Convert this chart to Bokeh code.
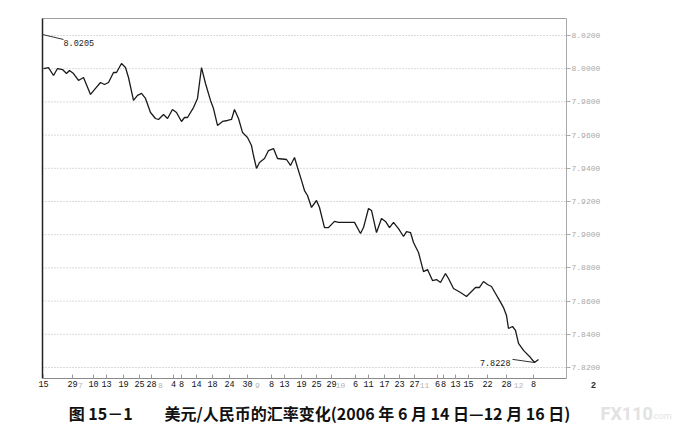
from bokeh.plotting import figure
from bokeh.models import Range1d, FixedTicker, Label, LinearAxis
from bokeh.embed import file_html
from bokeh.resources import INLINE

# trading-day index (0 = 14 Jun 2006) and USD/CNY rate
day = [3.75, 5, 6.25, 7.25, 8.5, 9.5, 10.25, 11.25, 12.5, 13.75, 15.5, 16.75, 18, 19, 20,
       21.25, 22, 23.25, 24.25, 25, 26.25, 27.25, 28.25, 29.25, 30.5, 31.75, 32.5, 33.75,
       34.75, 36, 37, 38.25, 39, 39.75, 41.25, 42.25, 43.25, 44.25, 45.5, 46.25, 47.25,
       48.5, 49.75, 50.75, 51.5, 52.5, 53.5, 54.75, 55.75, 56.25, 57, 57.75, 59, 60, 61.25,
       62.25, 64.5, 65.5, 66.5, 67.25, 68.25, 69, 69.75, 70.75, 72, 72.75, 74, 75, 76.5,
       77.5, 81.5, 83, 83.75, 85, 85.75, 87, 88.25, 89.25, 90.25, 91.25, 92.5, 93.75, 94.5,
       95.5, 96.25, 97.5, 98.75, 99.75, 101, 102, 103, 104.25, 105, 106.25, 108, 109.5,
       110.5, 111.75, 112.75, 113.75, 114.75, 115.75, 116.75, 117.75, 118.75, 119.5, 120,
       121, 121.75, 122.5, 123.75, 125.5, 126.5, 127.5]
rate = [8.0001, 8.0007, 7.9959, 8.0001, 7.9995, 7.9971, 7.9989, 7.9971, 7.9929, 7.9947,
        7.9845, 7.9881, 7.9917, 7.9905, 7.9917, 7.9977, 7.9977, 8.0031, 8.0007, 7.9947,
        7.9809, 7.9839, 7.9851, 7.9821, 7.9736, 7.9700, 7.9694, 7.9724, 7.9700, 7.9754,
        7.9736, 7.9682, 7.9706, 7.9706, 7.9766, 7.9821, 8.0007, 7.9911, 7.9809, 7.9760,
        7.9658, 7.9682, 7.9688, 7.9694, 7.9754, 7.9700, 7.9616, 7.9586, 7.9537, 7.9477,
        7.9399, 7.9435, 7.9459, 7.9507, 7.9519, 7.9459, 7.9453, 7.9417, 7.9465, 7.9405,
        7.9327, 7.9266, 7.9236, 7.9164, 7.9206, 7.9164, 7.9043, 7.9043, 7.9080, 7.9074,
        7.9074, 7.9007, 7.9043, 7.9158, 7.9146, 7.9013, 7.9098, 7.9080, 7.9043, 7.9074,
        7.9037, 7.8989, 7.9019, 7.9013, 7.8953, 7.8893, 7.8778, 7.8790, 7.8724, 7.8730,
        7.8712, 7.8766, 7.8736, 7.8676, 7.8652, 7.8628, 7.8652, 7.8682, 7.8682, 7.8718,
        7.8700, 7.8688, 7.8646, 7.8604, 7.8561, 7.8513, 7.8435, 7.8447, 7.8423, 7.8345,
        7.8303, 7.8260, 7.8230, 7.8248]

tick_days = [3.75, 11, 16.25, 19.5, 23.75, 27.75, 30.75, 36.25, 38.25, 42, 46, 50.25,
             54.75, 60.75, 64, 68.25, 72, 75.75, 81.75, 85, 89, 92.75, 96.5, 102.25,
             103.75, 106.75, 110, 114.75, 119.5, 126.25]
tick_labels = ["15", "29", "10", "13", "19", "25", "28", "4", "8", "14", "18", "24", "30",
               "8", "13", "19", "25", "29", "6", "11", "17", "23", "27", "6", "8", "13",
               "15", "22", "28", "8"]
month_days = [13, 33, 57.25, 78, 99, 122.5]
month_labels = ["7", "8", "9", "10", "11", "12"]

y_ticks = [7.82, 7.84, 7.86, 7.88, 7.90, 7.92, 7.94, 7.96, 7.98, 8.00, 8.02]

high_label = "8.0205"
high_x = [3.5, 8.75]
high_y = [8.0206, 8.0176]
low_label = "7.8228"
low_x = [121.0, 126.5]
low_y = [7.8249, 7.8230]

caption = "图 15－1　　美元/人民币的汇率变化(2006 年 6 月 14 日—12 月 16 日)"

# plot-area bounds (data units) and the full canvas range
X_LO, X_HI = 3.5, 134.5
Y_LO, Y_HI = 7.81337, 8.03024
XR = (-7.0, 161.0)
YR = (7.78325, 8.041084)
Y_TXT = 7.80916      # row of the axis labels
Y_CAP = 7.79229      # caption row

p = figure(width=672, height=428, output_backend="svg", toolbar_location=None,
           x_range=Range1d(*XR), y_range=Range1d(*YR),
           x_axis_location=None, y_axis_location=None,
           min_border_left=0, min_border_right=0, min_border_top=0,
           min_border_bottom=0)
p.background_fill_color = "white"
p.border_fill_color = "white"
p.outline_line_color = None
p.xgrid.visible = False
p.ygrid.visible = False

mono = "Liberation Mono"

# x axis at the bottom of the plot area
xa = LinearAxis(fixed_location=Y_LO, bounds=(X_LO, X_HI))
xa.ticker = FixedTicker(ticks=tick_days)
xa.major_label_overrides = {d: l for d, l in zip(tick_days, tick_labels)}
xa.major_label_text_font = mono
xa.major_label_text_font_size = "8.5px"
xa.major_label_text_color = "#111111"
xa.major_label_standoff = 2
xa.major_tick_in = 4
xa.major_tick_out = 0
xa.major_tick_line_color = "#999999"
xa.minor_tick_line_color = None
xa.axis_line_color = "#8a8a8a"
p.add_layout(xa, "below")

# y axis on the right edge of the plot area
ya = LinearAxis(fixed_location=X_HI, bounds=(Y_LO, Y_HI))
ya.ticker = FixedTicker(ticks=y_ticks)
ya.major_label_overrides = {t: "%.4f" % t for t in y_ticks}
ya.major_label_text_font = mono
ya.major_label_text_font_size = "8px"
ya.major_label_text_color = "#a8a8a8"
ya.major_label_standoff = 1
ya.major_tick_in = 0
ya.major_tick_out = 4
ya.major_tick_line_color = "#aaaaaa"
ya.minor_tick_line_color = None
ya.axis_line_color = "#aaaaaa"
p.add_layout(ya, "right")

# horizontal dotted grid lines at the y ticks
p.segment(x0=X_LO, x1=X_HI, y0=y_ticks, y1=y_ticks, line_color="#b4b4b4",
          line_dash="1 2", line_width=1)

# top border (grey) and dark left border
p.line([X_LO, X_HI], [Y_HI, Y_HI], line_color="#a0a0a0", line_width=1)
p.line([X_LO, X_LO], [Y_LO, Y_HI], line_color="#222222", line_width=1.5)

# the rate line
p.line(day, rate, line_color="#1a1a1a", line_width=1.3)

# annotations for high / low
p.line(high_x, high_y, line_color="#333333", line_width=1)
p.line(low_x, low_y, line_color="#333333", line_width=1)
p.add_layout(Label(x=high_x[1], y=high_y[1], text=high_label, text_font=mono,
                   text_font_size="8.5px", text_color="#222222",
                   text_baseline="top", y_offset=-1))
p.add_layout(Label(x=low_x[0], y=low_y[0], text=low_label, text_font=mono,
                   text_font_size="8.5px", text_color="#222222",
                   text_align="right", text_baseline="middle", x_offset=-2, y_offset=-4))

# month markers (grey) under the axis
for d, m in zip(month_days, month_labels):
    p.add_layout(Label(x=d, y=Y_TXT, text=m, text_font=mono, text_font_size="8px",
                       text_color="#b5b5b5", text_align="center", text_baseline="middle"))

p.add_layout(Label(x=141.25, y=Y_TXT, text="2", text_font=mono, text_font_size="9px",
                   text_font_style="bold", text_color="#333333", text_align="center",
                   text_baseline="middle"))

# caption
p.add_layout(Label(x=72.75, y=Y_CAP, text=caption, text_font="Noto Sans CJK SC",
                   text_font_size="16px", text_font_style="bold", text_color="#111111",
                   text_align="center", text_baseline="middle"))

# watermark
p.add_layout(Label(x=143.0, y=Y_CAP, text="FX110", text_font="Roboto",
                   text_font_size="18px", text_font_style="bold", text_color="#e2e2e2",
                   text_align="left", text_baseline="middle"))
p.add_layout(Label(x=155.75, y=Y_CAP, text=".com", text_font="Roboto",
                   text_font_size="9px", text_color="#e2e2e2",
                   text_align="left", text_baseline="middle", y_offset=-3))

open("out.html", "w").write(file_html(p, INLINE))
